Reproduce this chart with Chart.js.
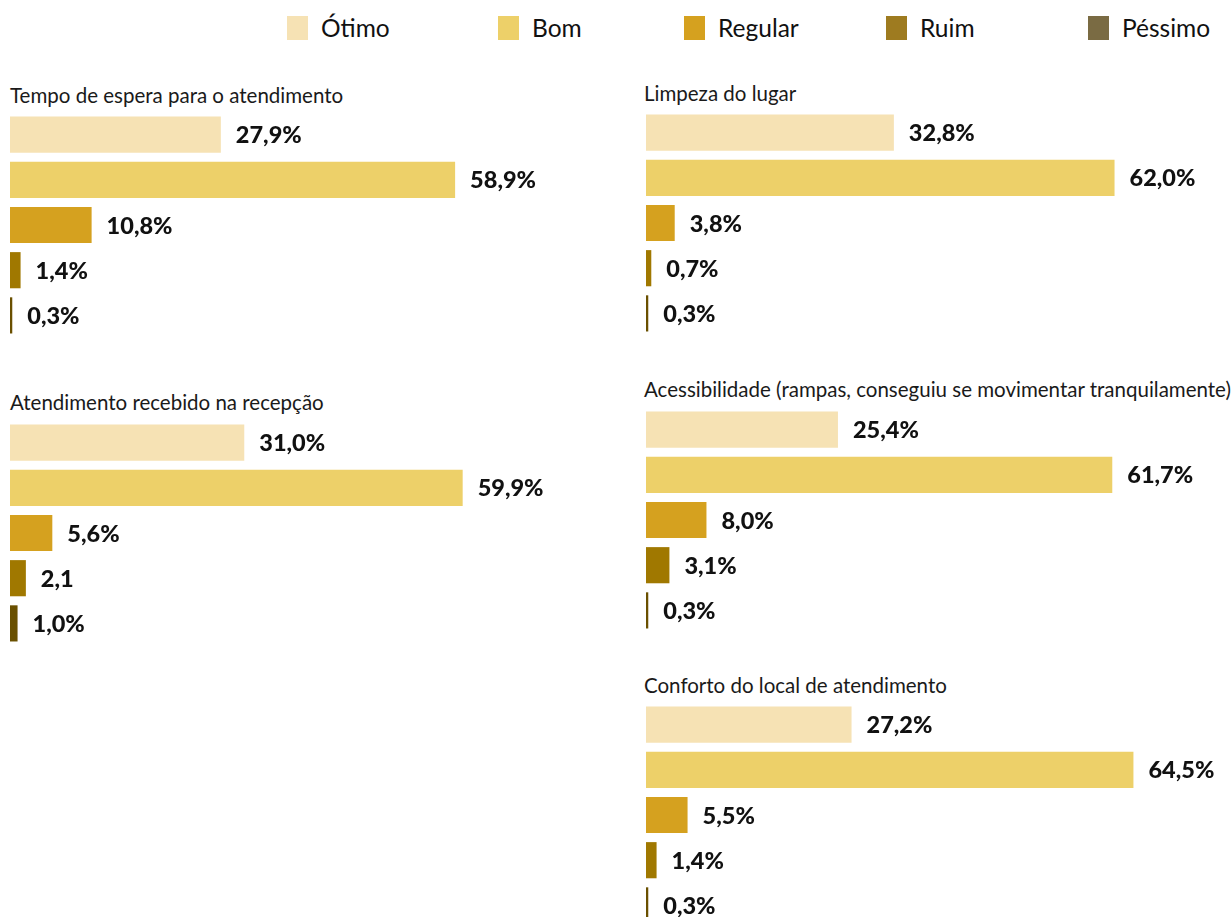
<!DOCTYPE html>
<html lang="pt-BR">
<head>
<meta charset="utf-8">
<script src="https://cdn.jsdelivr.net/npm/chart.js@4.4.1/dist/chart.umd.min.js"></script>
<style>
  html, body { margin: 0; padding: 0; background: #fff; }
  body { width: 1232px; height: 917px; position: relative; overflow: hidden; font-family: Lato, "Open Sans", sans-serif; }
  .legend-item { position: absolute; top: 13px; display: flex; align-items: center; font-size: 24.5px; color: #111; }
  .legend-item span.box { display: inline-block; width: 21px; height: 24px; margin-right: 13px; }
  .title { position: absolute; font-size: 20.5px; color: #1a1a1a; line-height: 22px; white-space: nowrap; }
  .panel { position: absolute; width: 596px; height: 226px; }
</style>
</head>
<body>

<div id="legend"></div>

<div class="title" style="left:10px; top:84px;">Tempo de espera para o atendimento</div>
<div class="panel" style="left:0; top:112px;"><canvas id="chartTempo"></canvas></div>

<div class="title" style="left:10px; top:391px;">Atendimento recebido na recepção</div>
<div class="panel" style="left:0; top:420px;"><canvas id="chartRecepcao"></canvas></div>

<div class="title" style="left:644px; top:82px;">Limpeza do lugar</div>
<div class="panel" style="left:636px; top:110px;"><canvas id="chartLimpeza"></canvas></div>

<div class="title" style="left:644px; top:378px;">Acessibilidade (rampas, conseguiu se movimentar tranquilamente)</div>
<div class="panel" style="left:636px; top:407px;"><canvas id="chartAcess"></canvas></div>

<div class="title" style="left:644px; top:674px;">Conforto do local de atendimento</div>
<div class="panel" style="left:636px; top:702px;"><canvas id="chartConforto"></canvas></div>

<script>
// Categories and colours
const categories = ['Ótimo', 'Bom', 'Regular', 'Ruim', 'Péssimo'];
const barColors = ['#F6E2B4', '#EDD069', '#D5A11F', '#A07800', '#6A5000'];
const legendColors = ['#F6E2B4', '#EDD069', '#D5A11F', '#9E7B20', '#7A6B43'];

// Values (%), one array per question
const tempoValues = [27.9, 58.9, 10.8, 1.4, 0.3];
const tempoLabels = ['27,9%', '58,9%', '10,8%', '1,4%', '0,3%'];

const recepcaoValues = [31.0, 59.9, 5.6, 2.1, 1.0];
const recepcaoLabels = ['31,0%', '59,9%', '5,6%', '2,1', '1,0%'];

const limpezaValues = [32.8, 62.0, 3.8, 0.7, 0.3];
const limpezaLabels = ['32,8%', '62,0%', '3,8%', '0,7%', '0,3%'];

const acessValues = [25.4, 61.7, 8.0, 3.1, 0.3];
const acessLabels = ['25,4%', '61,7%', '8,0%', '3,1%', '0,3%'];

const confortoValues = [27.2, 64.5, 5.5, 1.4, 0.3];
const confortoLabels = ['27,2%', '64,5%', '5,5%', '1,4%', '0,3%'];

const xMax = 70;

// Legend (shared by all panels)
const legendX = [287, 498, 684, 886, 1088];
const legendEl = document.getElementById('legend');
categories.forEach((cat, i) => {
  const item = document.createElement('div');
  item.className = 'legend-item';
  item.style.left = legendX[i] + 'px';
  item.innerHTML = `<span class="box" style="background:${legendColors[i]}"></span>${cat}`;
  legendEl.appendChild(item);
});

// Draws the value text to the right of each bar
const valueLabelPlugin = {
  id: 'valueLabels',
  afterDatasetsDraw(chart) {
    const ctx = chart.ctx;
    const labels = chart.options.plugins.valueLabels.labels;
    const meta = chart.getDatasetMeta(0);
    ctx.save();
    ctx.font = '900 23.5px Lato, "Open Sans", sans-serif';
    ctx.fillStyle = '#111';
    ctx.textBaseline = 'middle';
    ctx.textAlign = 'left';
    meta.data.forEach((bar, i) => {
      ctx.fillText(labels[i], bar.x + 15, bar.y + 1);
    });
    ctx.restore();
  }
};

function makeChart(id, values, labels) {
  return new Chart(document.getElementById(id), {
    type: 'bar',
    data: {
      labels: categories,
      datasets: [{
        data: values,
        backgroundColor: barColors,
        borderWidth: 0,
        categoryPercentage: 1.0,
        barPercentage: 0.8
      }]
    },
    options: {
      indexAxis: 'y',
      responsive: true,
      maintainAspectRatio: false,
      animation: false,
      layout: { padding: { left: 10, right: 57, top: 0, bottom: 0 } },
      scales: {
        x: { display: false, min: 0, max: xMax },
        y: { display: false }
      },
      plugins: {
        legend: { display: false },
        tooltip: { enabled: false },
        valueLabels: { labels: labels }
      }
    },
    plugins: [valueLabelPlugin]
  });
}

makeChart('chartTempo', tempoValues, tempoLabels);
makeChart('chartRecepcao', recepcaoValues, recepcaoLabels);
makeChart('chartLimpeza', limpezaValues, limpezaLabels);
makeChart('chartAcess', acessValues, acessLabels);
makeChart('chartConforto', confortoValues, confortoLabels);
</script>
</body>
</html>
